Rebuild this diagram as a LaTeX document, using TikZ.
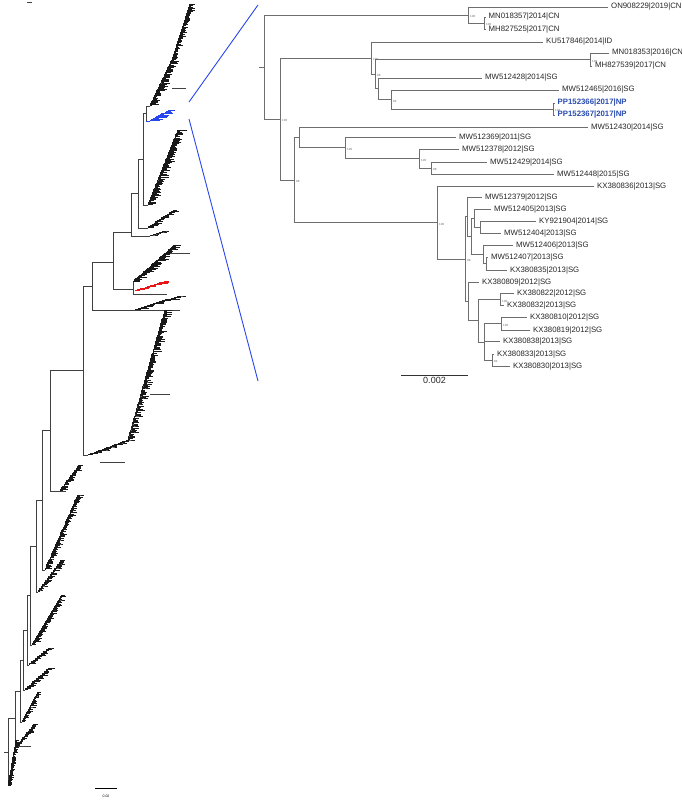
\documentclass[tikz,border=0pt]{standalone}
\usepackage{fontspec}
\setmainfont{Liberation Sans}
\definecolor{brc}{HTML}{6E6E6E}
\definecolor{zb}{RGB}{40,70,235}
\definecolor{nb}{RGB}{40,75,175}
\definecolor{rd}{RGB}{235,20,20}
\tikzset{
 br/.style={draw=brc, line width=0.8pt},
 lt/.style={line width=0.45pt, draw=black!75},
 lab/.style={anchor=west, inner sep=0pt, xshift=3pt, font=\fontsize{7.8}{8}\selectfont, text=black!85},
 nplab/.style={lab, font=\fontsize{7.8}{8}\selectfont\bfseries, text=nb},
 bs/.style={anchor=west, inner sep=0pt, xshift=2pt, yshift=-1.5pt, font=\fontsize{3}{3}\selectfont, text=black!60},
 zoomline/.style={draw=zb, line width=0.9pt},
}
% staircase clade: [colour] x0 y0 x1 y1 steps maxtip
\newcommand\myclade[7][black!90]{%
 \foreach \k in {1,...,#6}{%
   \pgfmathsetmacro\xa{#2+(#4-#2)*(\k-1)/#6}%
   \pgfmathsetmacro\ya{#3+(#5-#3)*(\k-1)/#6}%
   \pgfmathsetmacro\xb{#2+(#4-#2)*\k/#6}%
   \pgfmathsetmacro\yb{#3+(#5-#3)*\k/#6}%
   \pgfmathsetmacro\la{1+rnd*#7}%
   \pgfmathsetmacro\lb{1+rnd*#7*0.7}%
   \pgfmathsetmacro\lc{1+rnd*#7*0.5}%
   \pgfmathsetmacro\ym{(\ya+\yb)/2}%
   \pgfmathsetmacro\yq{(\ya+3*\yb)/4}%
   \draw[line width=0.5pt, draw=#1] (\xa,\ya) |- (\xb,\yb) -- ++(\la,0);
   \draw[line width=0.5pt, draw=#1] (\xa,\ym) -- ++(\lb,0);
   \draw[line width=0.5pt, draw=#1] ({\xa+0.3*\lb},\ym) |- ++(\lc,{\yq-\ym});
 }}
\newcommand\tip[5][lab]{\coordinate (#2) at (#3,#4); \node[#1] (#2l) at (#2) {#5};}
\begin{document}
\begin{tikzpicture}[x=1pt,y=-1pt]
\useasboundingbox (0,0) rectangle (682,800);
\pgfmathsetseed{7}
%================ LEFT TREE ================
\draw[lt] (27,2.5) -- (32,2.5);
% backbone
\draw[lt] (146,106) -- (146,121);
\draw[lt] (146,106) -- (150,106);
\draw[lt] (143,113) -- (146,113);
\draw[lt] (143,113) -- (143,205) -- (148,205);
\draw[lt] (138,159) -- (143,159);
\draw[lt] (138,159) -- (138,228) -- (148,228);
\draw[lt] (131,193) -- (138,193);
\draw[lt] (131,193) -- (131,236) -- (150,236);
\draw[lt] (113,232) -- (131,232);
\draw[lt] (113,232) -- (113,289) -- (133,289);
\draw[lt] (133,282) -- (133,294);
\draw[lt] (92,262) -- (113,262);
\draw[lt] (92,262) -- (92,310) -- (180,310);
\draw[lt] (83,286) -- (92,286);
\draw[lt] (83,286) -- (83,455) -- (88,455);
\draw[lt] (50,370) -- (83,370);
\draw[lt] (50,370) -- (50,491) -- (66,491);
\draw[lt] (42,430) -- (50,430);
\draw[lt] (42,430) -- (42,570) -- (45,570);
\draw[lt] (36,500) -- (42,500);
\draw[lt] (36,500) -- (36,592) -- (38,592);
\draw[lt] (30,546) -- (36,546);
\draw[lt] (30,546) -- (30,645) -- (32,645);
\draw[lt] (27,595) -- (30,595);
\draw[lt] (27,595) -- (27,665) -- (29,665);
\draw[lt] (23,630) -- (27,630);
\draw[lt] (23,630) -- (23,690) -- (25,690);
\draw[lt] (20,660) -- (23,660);
\draw[lt] (20,660) -- (20,722) -- (22,722);
\draw[lt] (15,691) -- (20,691);
\draw[lt] (15,691) -- (15,746) -- (31,746);
\draw[lt] (8,718) -- (15,718);
\draw[lt] (8,718) -- (8,786);
\draw[lt] (4,752) -- (8,752);
% clades
\myclade{150}{106}{172}{60}{30}{8}
\myclade{172}{60}{190}{4}{38}{6}
\draw[lt] (172,88) -- (186,88);
\myclade[zb]{150}{121}{170}{110}{12}{9}
\draw[zb, line width=0.45pt] (146,121) -- (150,121);
\myclade{148}{205}{178}{130}{48}{9}
\myclade{148}{228}{175}{210}{14}{8}
\myclade{150}{236}{165}{231}{5}{5}
\myclade{133}{282}{175}{245}{32}{9}
\draw[lt] (170,253) -- (190,253);
\myclade[rd]{135}{291}{167}{281}{13}{8}
\draw[lt] (133,294) -- (167,294);
\myclade{135}{310}{180}{296}{15}{8}
\myclade{88}{455}{128}{440}{20}{8}
\myclade{128}{440}{145}{380}{30}{8}
\myclade{145}{380}{165}{310}{36}{8}
\draw[lt] (150,394) -- (170,394);
\draw[lt] (100,462) -- (125,462);
\myclade{60}{491}{80}{465}{15}{6}
\myclade{45}{570}{78}{495}{40}{6}
\myclade{38}{592}{62}{560}{16}{6}
\myclade{32}{645}{62}{595}{30}{6}
\myclade{29}{665}{50}{648}{10}{5}
\myclade{25}{690}{50}{668}{13}{5}
\myclade{22}{722}{38}{692}{16}{5}
\myclade{17}{746}{35}{724}{13}{5}
\myclade{8}{786}{16}{740}{26}{4}
% left scale bar
\coordinate (lsa) at (95,788);
\coordinate (lsb) at (117,788);
\draw[line width=0.7pt] (lsa) -- (lsb);
\node[inner sep=0pt, font=\fontsize{3.5}{4}\selectfont] (lsl) at (106,796) {0.02};
%================ ZOOM LINES ================
\coordinate (z1) at (189,102);
\coordinate (z2) at (258,5);
\coordinate (z3) at (189,119);
\coordinate (z4) at (258,381);
\draw[zoomline] (z1) -- (z2);
\draw[zoomline] (z3) -- (z4);
%================ RIGHT TREE ================
% internal nodes
\coordinate (R0) at (264,67);
\coordinate (G) at (468,15.1);
\coordinate (I) at (484,23.25);
\coordinate (H) at (280,119);
\coordinate (A) at (371,58);
\coordinate (B) at (375,74.1);
\coordinate (C) at (590,59.5);
\coordinate (D) at (378,88.75);
\coordinate (E) at (391,99.5);
\coordinate (F) at (553,109);
\coordinate (J) at (294,180);
\coordinate (K) at (299,137.4);
\coordinate (L) at (345,147.75);
\coordinate (M) at (419,158.5);
\coordinate (N) at (431,168);
\coordinate (O) at (437,222.5);
\coordinate (P) at (465,259);
\coordinate (W) at (467,216.7);
\coordinate (S) at (471,236.3);
\coordinate (S1) at (474,218);
\coordinate (R) at (480,227);
\coordinate (U) at (483,254.7);
\coordinate (V) at (486,263.85);
\coordinate (X) at (468,301.4);
\coordinate (Y) at (478,320.75);
\coordinate (Z) at (500,299.6);
\coordinate (AA) at (484,341.9);
\coordinate (BB) at (501,323.85);
\coordinate (CC) at (492,360);
% tips
\tip{t1}{608}{7}{ON908229|2019|CN}
\tip{t2}{485.5}{17}{MN018357|2014|CN}
\tip{t3}{485.5}{29.5}{MH827525|2017|CN}
\tip{t4}{543}{42}{KU517846|2014|ID}
\tip{t5}{609}{53}{MN018353|2016|CN}
\tip{t6}{592}{66}{MH827539|2017|CN}
\tip{t7}{482}{78}{MW512428|2014|SG}
\tip{t8}{559}{90}{MW512465|2016|SG}
\tip[nplab]{t9}{554.5}{103}{PP152366|2017|NP}
\tip[nplab]{t10}{554.5}{115}{PP152367|2017|NP}
\tip{t11}{588}{127}{MW512430|2014|SG}
\tip{t12}{456}{137}{MW512369|2011|SG}
\tip{t13}{459}{149}{MW512378|2012|SG}
\tip{t14}{487}{162}{MW512429|2014|SG}
\tip{t15}{554}{174}{MW512448|2015|SG}
\tip{t16}{594}{186}{KX380836|2013|SG}
\tip{t17}{482}{197}{MW512379|2012|SG}
\tip{t18}{491}{209}{MW512405|2013|SG}
\tip{t19}{536}{221}{KY921904|2014|SG}
\tip{t20}{501}{233}{MW512404|2013|SG}
\tip{t21}{513}{245.5}{MW512406|2013|SG}
\tip{t22}{488}{257.7}{MW512407|2013|SG}
\tip{t23}{507}{270}{KX380835|2013|SG}
\tip{t24}{479}{282}{KX380809|2012|SG}
\tip{t25}{514}{293.5}{KX380822|2012|SG}
\tip{t26}{504}{305.7}{KX380832|2013|SG}
\tip{t27}{527}{317.7}{KX380810|2012|SG}
\tip{t28}{530}{330}{KX380819|2012|SG}
\tip{t29}{500}{341.7}{KX380838|2013|SG}
\tip{t30}{494}{354}{KX380833|2013|SG}
\tip{t31}{510}{366}{KX380830|2013|SG}
% branches
\draw[br] (R0) -- ++(-5,0);
\draw[br] (R0) |- (G);  \draw[br] (R0) |- (H);
\draw[br] (G) |- (t1);  \draw[br] (G) |- (I);
\draw[br] (I) |- (t2);  \draw[br] (I) |- (t3);
\draw[br] (H) |- (A);   \draw[br] (H) |- (J);
\draw[br] (A) |- (t4);  \draw[br] (A) |- (B);
\draw[br] (B) |- (C);   \draw[br] (B) |- (D);
\draw[br] (C) |- (t5);  \draw[br] (C) |- (t6);
\draw[br] (D) |- (t7);  \draw[br] (D) |- (E);
\draw[br] (E) |- (t8);  \draw[br] (E) |- (F);
\draw[br] (F) |- (t9);  \draw[br] (F) |- (t10);
\draw[br] (J) |- (K);   \draw[br] (J) |- (O);
\draw[br] (K) |- (t11); \draw[br] (K) |- (L);
\draw[br] (L) |- (t12); \draw[br] (L) |- (M);
\draw[br] (M) |- (t13); \draw[br] (M) |- (N);
\draw[br] (N) |- (t14); \draw[br] (N) |- (t15);
\draw[br] (O) |- (t16); \draw[br] (O) |- (P);
\draw[br] (P) |- (W);   \draw[br] (P) |- (X);
\draw[br] (W) |- (t17); \draw[br] (W) |- (S);
\draw[br] (S) |- (S1);  \draw[br] (S) |- (U);
\draw[br] (S1) |- (t18); \draw[br] (S1) |- (R);
\draw[br] (R) |- (t19); \draw[br] (R) |- (t20);
\draw[br] (U) |- (t21); \draw[br] (U) |- (V);
\draw[br] (V) |- (t22); \draw[br] (V) |- (t23);
\draw[br] (X) |- (t24); \draw[br] (X) |- (Y);
\draw[br] (Y) |- (Z);   \draw[br] (Y) |- (AA);
\draw[br] (Z) |- (t25); \draw[br] (Z) |- (t26);
\draw[br] (AA) |- (BB); \draw[br] (AA) |- (t29); \draw[br] (AA) |- (CC);
\draw[br] (BB) |- (t27); \draw[br] (BB) |- (t28);
\draw[br] (CC) |- (t30); \draw[br] (CC) |- (t31);
% support values
\foreach \n/\v in {G/100,I/100,H/100,A/100,B/98,C/100,E/84,F/100,J/98,L/100,M/100,N/98,O/100,P/98,Z/100,BB/100,CC/84}
  \node[bs] at (\n) {\v};
% scale bar
\coordinate (sa) at (401,375);
\coordinate (sb) at (468,375);
\draw[line width=0.8pt, draw=black!80] (sa) -- (sb);
\node[inner sep=0pt, anchor=north, font=\fontsize{9}{10}\selectfont, text=black!85] (sl) at (434.5,377) {0.002};
\end{tikzpicture}
\end{document}
